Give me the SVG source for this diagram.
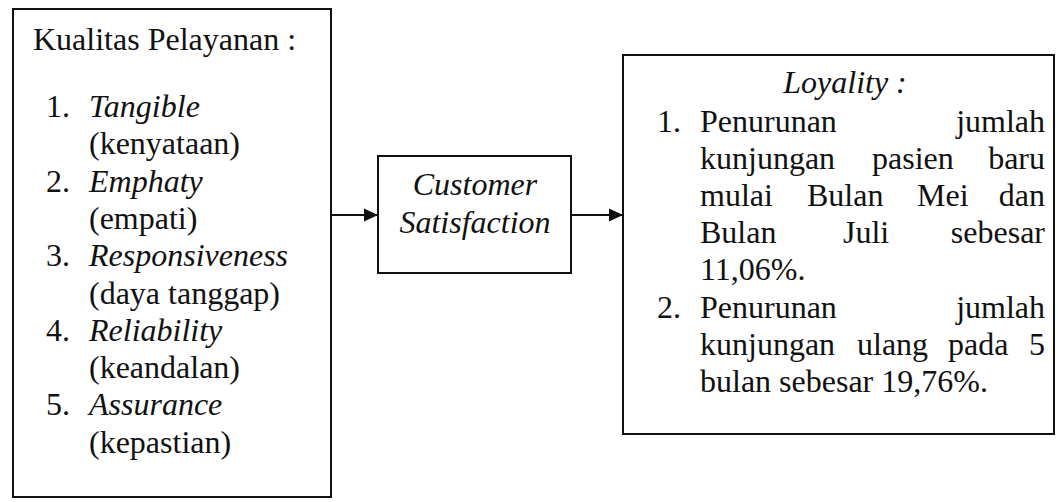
<svg xmlns="http://www.w3.org/2000/svg" width="1058" height="502" viewBox="0 0 1058 502">
<style>
.box{fill:#fff;stroke:#111;stroke-width:2}
.t{font-family:"Liberation Serif","Times New Roman",serif;font-size:32px;fill:#111}
.i{font-style:italic}
.e{text-anchor:end}
.m{text-anchor:middle}
.c{stroke:#111;stroke-width:2;fill:none}
</style>
<defs>
<marker id="ah" viewBox="0 0 14 14" refX="14" refY="7" markerWidth="14" markerHeight="14" markerUnits="userSpaceOnUse" orient="auto">
<path d="M0,0.5 L14,7 L0,13.5 Z" fill="#111"/>
</marker>
</defs>
<rect width="1058" height="502" fill="#fff"/>
<g id="kualitas">
<rect class="box" x="13" y="9" width="318" height="488"/>
<text class="t" x="33" y="50">Kualitas Pelayanan :</text>
<text class="t" x="46" y="117">1.</text><text class="t i" x="89" y="117">Tangible</text>
<text class="t" x="89" y="154.3">(kenyataan)</text>
<text class="t" x="46" y="191.6">2.</text><text class="t i" x="89" y="191.6">Emphaty</text>
<text class="t" x="89" y="228.9">(empati)</text>
<text class="t" x="46" y="266.2">3.</text><text class="t i" x="89" y="266.2">Responsiveness</text>
<text class="t" x="89" y="303.5">(daya tanggap)</text>
<text class="t" x="46" y="340.8">4.</text><text class="t i" x="89" y="340.8">Reliability</text>
<text class="t" x="89" y="378.1">(keandalan)</text>
<text class="t" x="46" y="415.4">5.</text><text class="t i" x="89" y="415.4">Assurance</text>
<text class="t" x="89" y="452.7">(kepastian)</text>
</g>
<g id="satisfaction">
<rect class="box" x="378" y="156" width="193" height="117"/>
<text class="t i m" x="475" y="195">Customer</text>
<text class="t i m" x="475" y="233">Satisfaction</text>
</g>
<g id="loyality">
<rect class="box" x="623" y="55" width="431" height="379"/>
<text class="t i m" x="845" y="93">Loyality :</text>
<text class="t" x="657" y="131.5">1.</text>
<text class="t" x="700" y="131.5">Penurunan</text><text class="t e" x="1045" y="131.5">jumlah</text>
<text class="t" x="700" y="168.5">kunjungan</text><text class="t" x="872" y="168.5">pasien</text><text class="t e" x="1045" y="168.5">baru</text>
<text class="t" x="700" y="205.5">mulai</text><text class="t" x="807" y="205.5">Bulan</text><text class="t" x="917" y="205.5">Mei</text><text class="t e" x="1045" y="205.5">dan</text>
<text class="t" x="700" y="242.5">Bulan</text><text class="t" x="843" y="242.5">Juli</text><text class="t e" x="1045" y="242.5">sebesar</text>
<text class="t" x="700" y="280">11,06%.</text>
<text class="t" x="657" y="318">2.</text>
<text class="t" x="700" y="318">Penurunan</text><text class="t e" x="1045" y="318">jumlah</text>
<text class="t" x="700" y="355">kunjungan</text><text class="t" x="857" y="355">ulang</text><text class="t" x="948" y="355">pada</text><text class="t e" x="1045" y="355">5</text>
<text class="t" x="700" y="392">bulan sebesar 19,76%.</text>
</g>
<g id="connectors">
<line class="c" x1="331" y1="215" x2="378" y2="215" marker-end="url(#ah)"/>
<line class="c" x1="571" y1="215" x2="623" y2="215" marker-end="url(#ah)"/>
</g>
</svg>
